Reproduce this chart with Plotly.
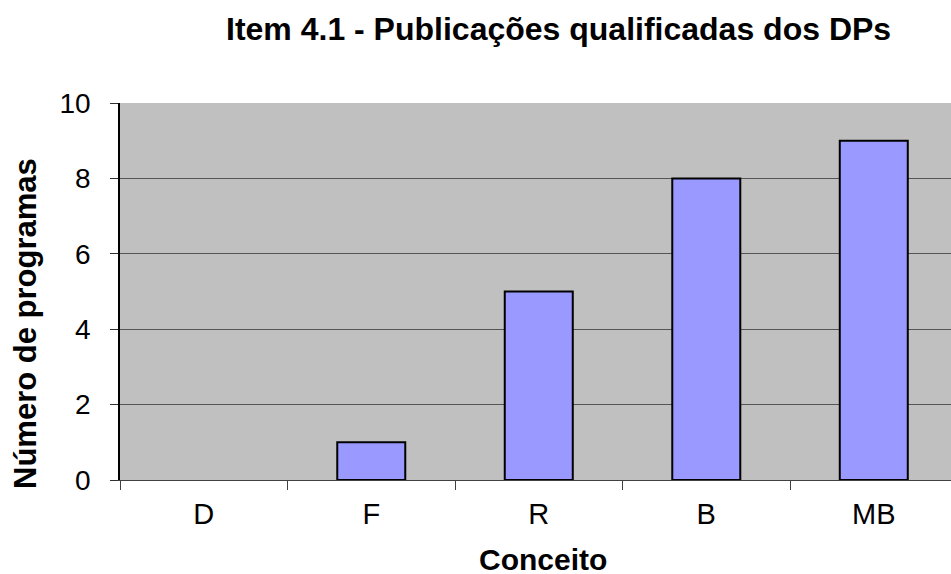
import plotly.graph_objects as go

categories = ["D", "F", "R", "B", "MB"]
values = [0, 1, 5, 8, 9]
y_ticks = [0, 2, 4, 6, 8, 10]

FONT = "Liberation Sans, Arial, sans-serif"
W, H = 951, 574

fig = go.Figure()
fig.add_trace(go.Bar(
    x=categories, y=values,
    marker=dict(color="#9999FF",
                line=dict(color="black", width=[0 if v == 0 else 2 for v in values])),
    width=0.406,
    hoverinfo="skip",
))

fig.update_layout(
    width=W, height=H,
    margin=dict(l=120, r=0, t=103, b=94, autoexpand=False),
    paper_bgcolor="white",
    plot_bgcolor="#C0C0C0",
    showlegend=False,
    font=dict(family=FONT, color="black"),
    annotations=[
        dict(text="<b>Item 4.1 - Publicações qualificadas dos DPs</b>",
             xref="paper", yref="paper", x=(558.6 - 120) / 831, y=1 + (103 - 29) / 377,
             xanchor="center", yanchor="middle", showarrow=False,
             font=dict(size=32, family=FONT, color="black")),
        dict(text="<b>Conceito</b>",
             xref="paper", yref="paper", x=(542.5 - 120) / 831, y=-(559 - 480) / 377,
             xanchor="center", yanchor="middle", showarrow=False,
             font=dict(size=30, family=FONT, color="black")),
        dict(text="<b>Número de programas</b>", textangle=-90,
             xref="paper", yref="paper", x=(25 - 120) / 831, y=(480 - 324) / 377,
             xanchor="center", yanchor="middle", showarrow=False,
             font=dict(size=31, family=FONT, color="black")),
    ],
)

fig.update_xaxes(
    type="category",
    range=[-0.5, 4.461],
    tickson="boundaries",
    ticks="outside", ticklen=9, tickcolor="#404040", tickwidth=1,
    showline=True, linecolor="#404040", linewidth=1,
    showgrid=False,
    automargin=False,
    tickfont=dict(size=29, family=FONT, color="black"),
    ticklabelstandoff=8,
)

fig.update_yaxes(
    range=[0, 10],
    tickvals=y_ticks,
    ticks="outside", ticklen=8, tickcolor="#303030", tickwidth=1,
    showline=True, linecolor="black", linewidth=1.5,
    showgrid=True, gridcolor="#555555", gridwidth=1,
    zeroline=False,
    automargin=False,
    tickfont=dict(size=28, family=FONT, color="black"),
    ticklabelstandoff=14,
)

fig.write_html("out.html", config={"displayModeBar": False},
               post_script="document.body.style.margin='0';document.body.style.overflow='hidden';")
